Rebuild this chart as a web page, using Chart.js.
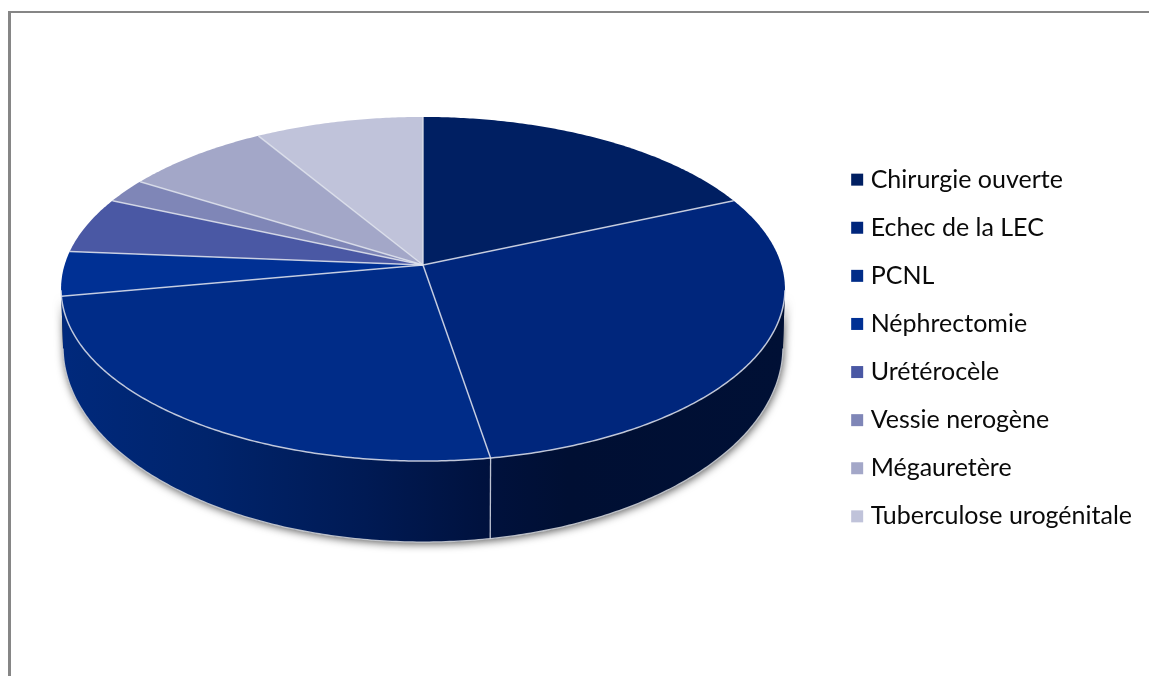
<!DOCTYPE html>
<html>
<head>
<meta charset="utf-8">
<title>Chirurgie</title>
<style>
  html, body { margin: 0; padding: 0; background: #fff; overflow: hidden; }
  #wrap { position: relative; width: 1149px; height: 676px; overflow: hidden; }
  #frame { position: absolute; left: 8px; top: 11px; width: 1300px; height: 800px; border-style: solid; border-color: #868686; border-width: 2px 0 0 3px; }
  #canvas { position: absolute; left: 0; top: 0; }
</style>
<script src="https://cdn.jsdelivr.net/npm/chart.js@4/dist/chart.umd.min.js"></script>
</head>
<body>
<div id="wrap">
  <div id="frame"></div>
  <canvas id="canvas" width="1149" height="676"></canvas>
</div>
<script>
const categories = ['Chirurgie ouverte', 'Echec de la LEC', 'PCNL', 'Néphrectomie', 'Urétérocèle', 'Vessie nerogène', 'Mégauretère', 'Tuberculose urogénitale'];
const values = [18.4, 29.0, 24.7, 4.2, 5.3, 2.3, 7.5, 8.6];
const colors = ['#001f62', '#00267c', '#002c88', '#003094', '#4a58a4', '#7f86b7', '#a3a7c8', '#c0c3da'];

// tilted disc: the apex sits above the middle of the top ellipse
const apexX = 423, apexY = 265;
const persp = -0.1395, depthY = 168.7, widthX = 358.4;

function topRim(a) {
  const u = Math.cos(a), v = Math.sin(a), w = 1 + persp * v;
  return { x: apexX + widthX * u / w, y: apexY + depthY * v / w };
}

// same rim pushed down to the base of the disc
function baseRim(p) {
  const nx = (p.x - apexX) / 362, ny = (p.y - 289) / 172;
  return { x: apexX + 360 * nx, y: 347 + 195 * ny };
}

function rimPoints(start, end) {
  const pts = [];
  const n = Math.max(2, Math.ceil((end - start) / 0.01));
  for (let i = 0; i <= n; i++) pts.push(topRim(start + (end - start) * i / n));
  return pts;
}

function wallPath(ctx, top) {
  ctx.beginPath();
  top.forEach((p, i) => i ? ctx.lineTo(p.x, p.y) : ctx.moveTo(p.x, p.y));
  top.slice().reverse().forEach(p => {
    const b = baseRim(p);
    ctx.lineTo(b.x, b.y);
  });
  ctx.closePath();
}

const pie3d = {
  id: 'pie3d',
  beforeDatasetDraw(chart, args) {
    const ctx = chart.ctx;
    const arcs = args.meta.data;
    const edge = 'rgba(222,226,236,0.85)';
    const visible = p => p.y >= 289;

    ctx.save();

    // drop shadow under the whole side wall
    const first = arcs[0].startAngle, last = arcs[arcs.length - 1].endAngle;
    const frontAll = rimPoints(first, last).filter(visible);
    ctx.save();
    ctx.shadowColor = 'rgba(0,0,0,0.65)';
    ctx.shadowBlur = 9;
    ctx.shadowOffsetX = 1;
    ctx.shadowOffsetY = 2;
    ctx.fillStyle = '#001038';
    wallPath(ctx, frontAll);
    ctx.fill();
    ctx.restore();

    const wallFill = ctx.createLinearGradient(61, 0, 785, 0);
    wallFill.addColorStop(0, '#00297c');
    wallFill.addColorStop(0.2, '#00246c');
    wallFill.addColorStop(0.42, '#001a54');
    wallFill.addColorStop(0.6, '#00113c');
    wallFill.addColorStop(0.7, '#000f33');
    wallFill.addColorStop(1, '#001035');

    arcs.forEach(arc => {
      const front = rimPoints(arc.startAngle, arc.endAngle).filter(visible);
      if (front.length < 2) return;
      ctx.fillStyle = wallFill;
      wallPath(ctx, front);
      ctx.fill();
    });

    // light edge along the base and on the wall seams
    ctx.strokeStyle = 'rgba(205,208,214,0.9)';
    ctx.lineWidth = 1.3;
    ctx.beginPath();
    frontAll.forEach((p, i) => {
      const b = baseRim(p);
      i ? ctx.lineTo(b.x, b.y) : ctx.moveTo(b.x, b.y);
    });
    ctx.stroke();
    arcs.forEach(arc => {
      const p = topRim(arc.startAngle);
      if (!visible(p) || p.y < 320) return;
      const b = baseRim(p);
      ctx.strokeStyle = edge;
      ctx.beginPath();
      ctx.moveTo(p.x, p.y);
      ctx.lineTo(b.x, b.y);
      ctx.stroke();
    });

    // top face
    arcs.forEach((arc, i) => {
      ctx.beginPath();
      ctx.moveTo(apexX, apexY);
      rimPoints(arc.startAngle, arc.endAngle).forEach(p => ctx.lineTo(p.x, p.y));
      ctx.closePath();
      ctx.fillStyle = colors[i];
      ctx.fill();
    });
    ctx.strokeStyle = edge;
    ctx.lineWidth = 1.5;
    arcs.forEach(arc => {
      const p = topRim(arc.startAngle);
      ctx.beginPath();
      ctx.moveTo(apexX, apexY);
      ctx.lineTo(p.x, p.y);
      ctx.stroke();
    });
    ctx.beginPath();
    frontAll.forEach((p, i) => i ? ctx.lineTo(p.x, p.y) : ctx.moveTo(p.x, p.y));
    ctx.stroke();

    ctx.restore();
    return false;
  }
};

new Chart(document.getElementById('canvas'), {
  type: 'pie',
  data: {
    labels: categories,
    datasets: [{
      data: values,
      backgroundColor: colors,
      borderWidth: 0
    }]
  },
  plugins: [pie3d],
  options: {
    responsive: false,
    animation: false,
    events: [],
    layout: { padding: { top: 20, right: 7 } },
    plugins: {
      tooltip: { enabled: false },
      legend: {
        position: 'right',
        labels: {
          color: '#0a0a0a',
          font: { family: 'Lato', size: 25 },
          usePointStyle: true,
          pointStyle: 'rect',
          boxWidth: 2,
          boxHeight: 12,
          padding: 23.1
        }
      }
    }
  }
});
</script>
</body>
</html>
